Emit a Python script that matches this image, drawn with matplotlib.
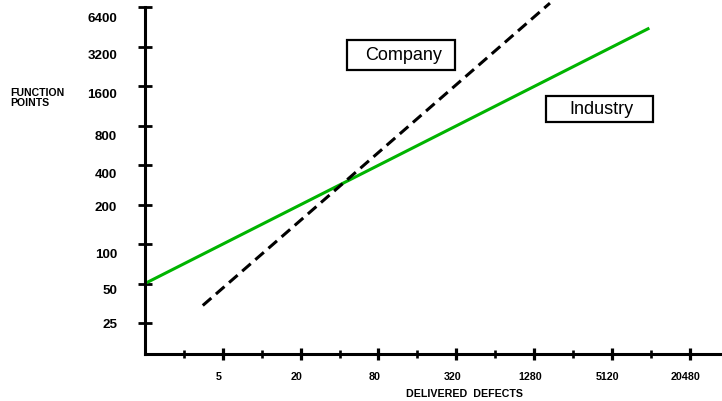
import matplotlib
matplotlib.use("Agg")
import matplotlib.pyplot as plt
import matplotlib.transforms as mtransforms
from matplotlib.patches import Rectangle
from matplotlib.ticker import FixedLocator, NullFormatter

# Defects vs function points (log2 scales)
industry_defects = [1.25, 10000]
industry_fp = [50, 4420]
company_defects = [3.5, 1700]
company_fp = [34, 6850]

x_major_ticks = [5, 20, 80, 320, 1280, 5120, 20480]
x_minor_ticks = [2.5, 10, 40, 160, 640, 2560, 10240]
y_ticks = [25, 50, 100, 200, 400, 800, 1600, 3200, 6400]
# vertical nudge (pixels, downward) of each y tick label
y_label_nudge = [-1, 5, 8, 1, 7, 9, 7, 7, 10]

W, H = 722, 402
fig = plt.figure(figsize=(W / 100, H / 100), dpi=100)
plt.rcParams['font.family'] = ['Liberation Sans', 'DejaVu Sans']


def fx(px):
    return px / W


def fy(py):
    return 1 - py / H


ax_left, ax_right, ax_top, ax_bottom = 145, 721, 8, 355
ax = fig.add_axes([fx(ax_left), fy(ax_bottom), fx(ax_right - ax_left),
                   (ax_bottom - ax_top) / H])
ax.set_xscale('log', base=2)
ax.set_yscale('log', base=2)
ax.set_xlim(1.25, 1.25 * 2 ** ((ax_right - ax_left) / 38.9))
ax.set_ylim(25 * 2 ** (-(ax_bottom - 324) / 39.5), 6400)

ax.plot(industry_defects, industry_fp, color='#00b400', lw=2.2,
        solid_capstyle='butt', clip_on=False, zorder=3)
ax.plot(company_defects, company_fp, color='black', lw=2.2,
        dashes=(3.7, 2.0), clip_on=False, zorder=3)

for s in ['top', 'right']:
    ax.spines[s].set_visible(False)
for s in ['left', 'bottom']:
    ax.spines[s].set_linewidth(2.2)
    ax.spines[s].set_zorder(4)

ax.xaxis.set_major_locator(FixedLocator(x_major_ticks))
ax.xaxis.set_minor_locator(FixedLocator(x_minor_ticks))
ax.xaxis.set_minor_formatter(NullFormatter())
ax.set_xticklabels([str(v) for v in x_major_ticks])
ax.yaxis.set_major_locator(FixedLocator(y_ticks))
ax.yaxis.set_minor_locator(FixedLocator([]))
ax.set_yticklabels([str(v) for v in y_ticks])

ax.tick_params(axis='x', which='major', direction='inout', length=8.5,
               width=2.3, pad=8, labelsize=7.7)
ax.tick_params(axis='x', which='minor', direction='inout', length=6,
               width=1.9)
ax.tick_params(axis='y', which='major', direction='inout', length=10,
               width=2.0, pad=15, labelsize=9.6)
for lab in ax.get_xticklabels() + ax.get_yticklabels():
    lab.set_fontweight('bold')
shift = mtransforms.ScaledTranslation(-4 / 100, 0, fig.dpi_scale_trans)
for lab in ax.get_xticklabels():
    lab.set_transform(lab.get_transform() + shift)
for lab, dy in zip(ax.get_yticklabels(), y_label_nudge):
    off = mtransforms.ScaledTranslation(0, -dy / 100, fig.dpi_scale_trans)
    lab.set_transform(lab.get_transform() + off)

fig.text(fx(465), fy(394), 'DELIVERED  DEFECTS', ha='center', va='center',
         fontsize=7.7, fontweight='bold')
fig.text(fx(10), fy(98), 'FUNCTION\nPOINTS', ha='left', va='center',
         fontsize=7.6, fontweight='bold', linespacing=0.95)

# Legend-style labels in framed boxes
for label, (bx0, by0, bx1, by1), (tx, ty) in [
        ('Company', (347, 41, 455, 71), (404, 56)),
        ('Industry', (546, 97, 653, 123), (601, 110))]:
    fig.patches.append(Rectangle((fx(bx0), fy(by1)), fx(bx1 - bx0),
                                 (by1 - by0) / H, transform=fig.transFigure,
                                 fill=True, facecolor='white',
                                 edgecolor='black', lw=1.6, zorder=5))
    fig.text(fx(tx), fy(ty), label, ha='center', va='center', fontsize=13,
             zorder=6)

fig.savefig('out.png', dpi=100)
